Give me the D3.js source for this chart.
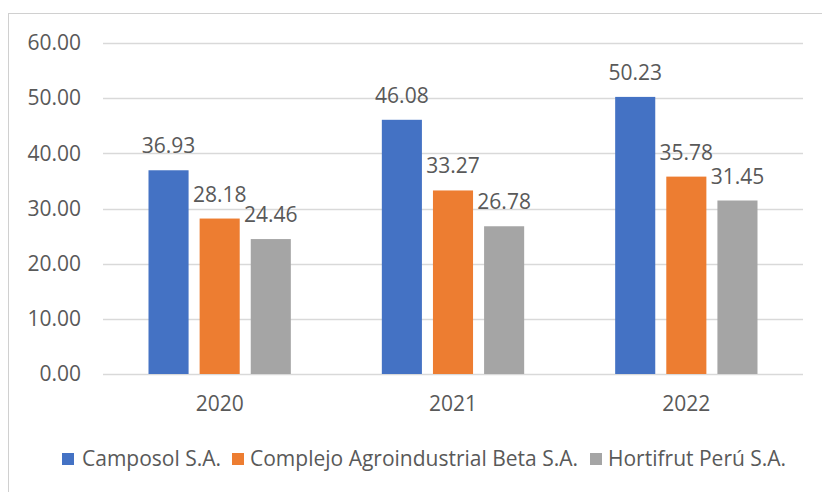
<!DOCTYPE html>
<html>
<head>
<meta charset="utf-8">
<script src="https://cdn.jsdelivr.net/npm/d3@7"></script>
<style>
  body { margin: 0; background: #fff; }
  text { font-family: "Open Sans", sans-serif; fill: #595959; }
</style>
</head>
<body>
<div id="chart"></div>
<script>
var years = ["2020", "2021", "2022"];
var series = ["Camposol S.A.", "Complejo Agroindustrial Beta S.A.", "Hortifrut Perú S.A."];
var camposol = [36.93, 46.08, 50.23];
var beta = [28.18, 33.27, 35.78];
var hortifrut = [24.46, 26.78, 31.45];
var yTicks = [0, 10, 20, 30, 40, 50, 60];
var colors = ["#4472c4", "#ed7d31", "#a5a5a5"];

var values = [camposol, beta, hortifrut];

var w = 822, h = 492;
var margin = {top: 43, right: 19, bottom: 118, left: 103};
var fontSize = 21;

var svg = d3.select("#chart").append("svg")
    .attr("width", w)
    .attr("height", h);

// chart box (page edge shows above it)
svg.append("rect")
    .attr("x", 8.5).attr("y", 13.5)
    .attr("width", w).attr("height", h)
    .attr("fill", "#fff")
    .attr("stroke", "#d0d0d0");

var x0 = d3.scaleBand()
    .domain(years)
    .range([margin.left, w - margin.right]);

var x1 = d3.scaleBand()
    .domain(d3.range(series.length))
    .range([45.5, x0.bandwidth() - 45.5])
    .paddingInner(0.216);

var y = d3.scaleLinear()
    .domain([0, 60])
    .range([h - margin.bottom, margin.top]);

// gridlines
svg.append("g")
    .selectAll("line")
    .data(yTicks)
    .enter().append("line")
    .attr("x1", margin.left)
    .attr("x2", w - margin.right)
    .attr("y1", function(d){ return Math.round(y(d)) + 0.5; })
    .attr("y2", function(d){ return Math.round(y(d)) + 0.5; })
    .attr("stroke", "#d9d9d9")
    .attr("stroke-width", 1.5);

// y axis labels
var yAxis = d3.axisLeft(y)
    .tickValues(yTicks)
    .tickFormat(d3.format(".2f"))
    .tickSize(0)
    .tickPadding(0);

svg.append("g")
    .attr("transform", "translate(81,0)")
    .call(yAxis)
    .call(function(g){ g.select(".domain").remove(); })
    .selectAll("text")
    .attr("font-size", fontSize)
    .attr("font-family", null)
    .attr("fill", "#595959");

// bars
var groups = svg.append("g")
    .selectAll("g")
    .data(years)
    .enter().append("g")
    .attr("transform", function(d){ return "translate(" + x0(d) + ",0)"; });

groups.selectAll("rect")
    .data(function(d, i){ return values.map(function(v, s){ return {s: s, v: v[i]}; }); })
    .enter().append("rect")
    .attr("x", function(d){ return x1(d.s); })
    .attr("y", function(d){ return y(d.v); })
    .attr("width", x1.bandwidth())
    .attr("height", function(d){ return y(0) - y(d.v); })
    .attr("fill", function(d){ return colors[d.s]; });

// value labels
groups.selectAll("text")
    .data(function(d, i){ return values.map(function(v, s){ return {s: s, v: v[i]}; }); })
    .enter().append("text")
    .attr("x", function(d){ return x1(d.s) + x1.bandwidth() / 2; })
    .attr("y", function(d){ return y(d.v) - 17; })
    .attr("text-anchor", "middle")
    .attr("font-size", fontSize)
    .text(function(d){ return d.v.toFixed(2); });

// x axis labels
var xAxis = d3.axisBottom(x0).tickSize(0).tickPadding(0);
svg.append("g")
    .attr("transform", "translate(0," + (y(0) + 22) + ")")
    .call(xAxis)
    .call(function(g){ g.select(".domain").remove(); })
    .selectAll("text")
    .attr("font-size", fontSize)
    .attr("font-family", null)
    .attr("fill", "#595959");

// legend
var legendX = [62, 232, 590];
var legend = svg.append("g")
    .selectAll("g")
    .data(series)
    .enter().append("g")
    .attr("transform", function(d, i){ return "translate(" + legendX[i] + ",453)"; });

legend.append("rect")
    .attr("width", 12).attr("height", 12)
    .attr("fill", function(d, i){ return colors[i]; });

legend.append("text")
    .attr("x", function(d, i){ return i == 0 ? 20 : 18; })
    .attr("y", 13)
    .attr("font-size", fontSize)
    .text(function(d){ return d; });
</script>
</body>
</html>
